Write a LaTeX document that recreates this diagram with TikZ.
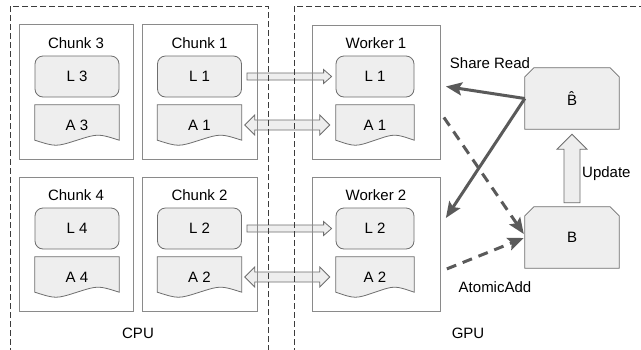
\documentclass[tikz,border=0pt]{standalone}
\usepackage{fontspec}
\setmainfont{Liberation Sans}
\usetikzlibrary{calc,arrows.meta,backgrounds}
\definecolor{boxfill}{HTML}{EEEEEE}
\definecolor{edgegray}{HTML}{8A8A8A}
\definecolor{inedge}{HTML}{6E6E6E}
\definecolor{thickgray}{HTML}{5A5A5A}
\definecolor{regline}{HTML}{3C3C3C}
\tikzset{
  lbl/.style={font=\fontsize{15}{18}\selectfont, inner sep=0pt},
  region/.style={draw=regline, line width=0.8pt, dash pattern=on 6pt off 3pt},
  chunkbox/.style={draw=edgegray, line width=0.9pt, anchor=north west, inner sep=0pt},
  lbox/.style={lbl, draw=inedge, fill=boxfill, line width=0.8pt, rounded corners=8pt,
     minimum width=84pt, minimum height=41pt},
  abox/.style={lbl, minimum width=84pt, minimum height=40pt},
  docline/.style={draw=inedge, fill=boxfill, line width=0.8pt},
  bnode/.style={lbl, minimum width=94pt, minimum height=61pt},
  blockarrow/.style={draw=inedge, fill=boxfill, line width=0.8pt},
  thickarrow/.style={draw=thickgray, line width=3pt,
     -{Stealth[length=16pt,width=13pt,inset=3pt]}},
  thickdash/.style={thickarrow, dash pattern=on 10pt off 7pt}
}
\newcommand\docshape[1]{%
  \begin{pgfonlayer}{background}
  \path[docline] (#1.north west) -- (#1.north east) -- ($(#1.south east)+(0,-5)$)
    .. controls ($(#1.south east)!0.5!(#1.south)+(0,-11.7)$) .. ($(#1.south)+(0,-5)$)
    .. controls ($(#1.south west)!0.5!(#1.south)+(0,1.7)$) .. ($(#1.south west)+(0,-5)$) -- cycle;
  \end{pgfonlayer}}
\newcommand\chamferbox[1]{%
  \begin{pgfonlayer}{background}
  \path[docline] ($(#1.north west)+(9,0)$) -- ($(#1.north east)+(-9,0)$) -- ($(#1.north east)+(0,9)$)
    -- (#1.south east) -- (#1.south west) -- ($(#1.north west)+(0,9)$) -- cycle;
  \end{pgfonlayer}}
\newcommand\blkone[2]{%
  \begin{pgfonlayer}{background}
  \path[blockarrow] let \p1=(#1), \p2=(#2) in
    (\x1,\y1+3.5pt) -- (\x2-8pt,\y1+3.5pt) -- (\x2-8pt,\y1+7pt) -- (\x2,\y1)
    -- (\x2-8pt,\y1-7pt) -- (\x2-8pt,\y1-3.5pt) -- (\x1,\y1-3.5pt) -- cycle;
  \end{pgfonlayer}}
\newcommand\blktwo[2]{%
  \begin{pgfonlayer}{background}
  \path[blockarrow] let \p1=(#1), \p2=(#2) in
    (\x1,\y1) -- (\x1+10pt,\y1+10pt) -- (\x1+10pt,\y1+5pt) -- (\x2-10pt,\y1+5pt)
    -- (\x2-10pt,\y1+10pt) -- (\x2,\y1) -- (\x2-10pt,\y1-10pt) -- (\x2-10pt,\y1-5pt)
    -- (\x1+10pt,\y1-5pt) -- (\x1+10pt,\y1-10pt) -- cycle;
  \end{pgfonlayer}}
\newcommand\blkup[2]{%
  \begin{pgfonlayer}{background}
  \path[blockarrow] let \p1=(#1), \p2=(#2) in
    (\x1-8pt,\y1) -- (\x1-8pt,\y2-15pt) -- (\x1-15pt,\y2-15pt) -- (\x1,\y2)
    -- (\x1+15pt,\y2-15pt) -- (\x1+8pt,\y2-15pt) -- (\x1+8pt,\y1) -- cycle;
  \end{pgfonlayer}}
\begin{document}
\begin{tikzpicture}[x=1pt,y=-1pt]
\useasboundingbox (0,0) rectangle (641,349);
\begin{pgfonlayer}{background}
\fill[white] (0,0) rectangle (641,349);
\end{pgfonlayer}
% regions
\draw[region] (10,6) rectangle (268,360);
\draw[region] (294,6) rectangle (660,360);
\node[lbl] (cpu) at (138,333) {CPU};
\node[lbl] (gpu) at (468,333) {GPU};
% chunks
\node[chunkbox, minimum width=114pt, minimum height=135pt] (c3) at (19,24) {};
\node[chunkbox, minimum width=115pt, minimum height=135pt] (c1) at (142,24) {};
\node[chunkbox, minimum width=114pt, minimum height=134pt] (c4) at (19,177) {};
\node[chunkbox, minimum width=115pt, minimum height=134pt] (c2) at (142,177) {};
\node[lbl] (t3) at (76,43) {Chunk 3};
\node[lbl] (t1) at (199.5,43) {Chunk 1};
\node[lbl] (t4) at (76,195) {Chunk 4};
\node[lbl] (t2) at (199.5,195) {Chunk 2};
\node[lbox] (l3) at (77,76.5) {L 3};
\node[lbox] (l1) at (199.5,76.5) {L 1};
\node[lbox] (l4) at (77,228.5) {L 4};
\node[lbox] (l2) at (199.5,228.5) {L 2};
\node[abox] (a3) at (77,125) {A 3};
\node[abox] (a1) at (199.5,125) {A 1};
\node[abox] (a4) at (77,277) {A 4};
\node[abox] (a2) at (199.5,277) {A 2};
\docshape{a3}\docshape{a1}\docshape{a4}\docshape{a2}
% workers
\node[chunkbox, minimum width=128pt, minimum height=134pt] (w1) at (312,25) {};
\node[chunkbox, minimum width=128pt, minimum height=134pt] (w2) at (312,177) {};
\node[lbl] (tw1) at (376,43) {Worker 1};
\node[lbl] (tw2) at (376,195) {Worker 2};
\node[lbox, minimum width=78pt] (wl1) at (375,76.5) {L 1};
\node[lbox, minimum width=78pt] (wl2) at (375,228.5) {L 2};
\node[abox, minimum width=78pt] (wa1) at (375,125) {A 1};
\node[abox, minimum width=78pt] (wa2) at (375,277) {A 2};
\docshape{wa1}\docshape{wa2}
% B boxes
\node[bnode] (bh) at (572,98.5) {\^{B}};
\node[bnode] (b) at (572,237.5) {B};
\chamferbox{bh}\chamferbox{b}
% block arrows
\blkone{$(l1.east)+(5,0)$}{$(wl1.west)+(-4,0)$}
\blkone{$(l2.east)+(5,0)$}{$(wl2.west)+(-4,0)$}
\blktwo{$(a1.east)+(3,0)$}{$(wa1.west)+(-6,0)$}
\blktwo{$(a2.east)+(3,0)$}{$(wa2.west)+(-6,0)$}
\blkup{$(b.north)+(0,-4)$}{$(bh.south)+(0,5)$}
\node[lbl, anchor=west] (upd) at (582,174) {Update};
% thick arrows
\draw[thickarrow] (bh.west) -- ([shift={(5,-6)}]w1.east);
\draw[thickarrow] (bh.west) -- ([shift={(5,41)}]w2.north east);
\draw[thickdash] ([shift={(3,25)}]w1.east) -- ([shift={(-1,-3.5)}]b.west);
\draw[thickdash] ([shift={(6,-43)}]w2.south east) -- ([shift={(-1,0.5)}]b.west);
\node[lbl] (share) at (490,63) {Share Read};
\node[lbl] (atom) at (495,287) {AtomicAdd};
\end{tikzpicture}
\end{document}
